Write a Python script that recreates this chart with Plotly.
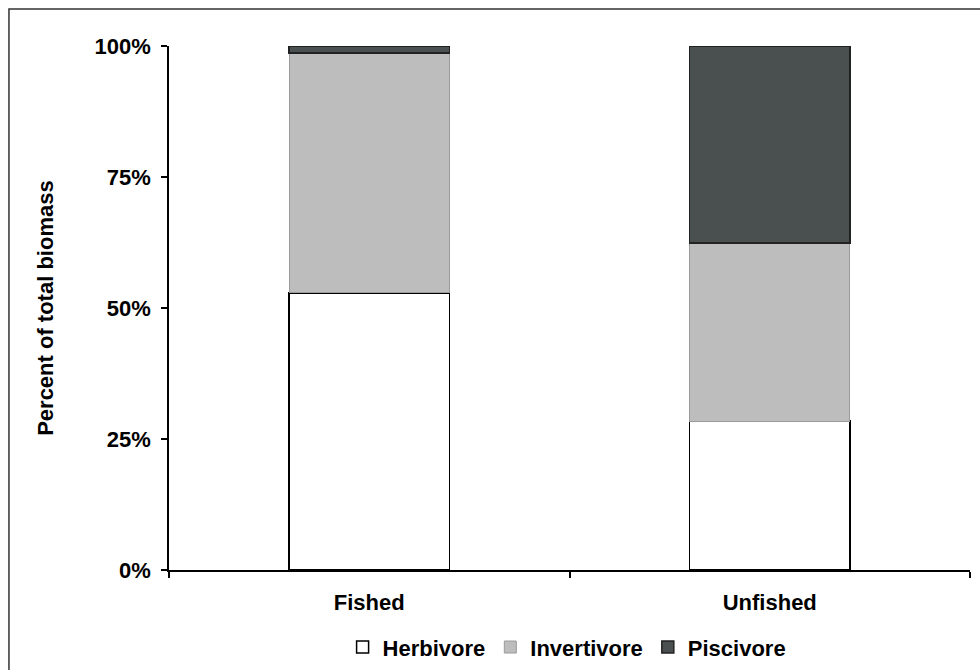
import plotly.graph_objects as go

SITES = ['Fished', 'Unfished']
HERBIVORE = [52.9, 28.4]
INVERTIVORE = [45.8, 34.0]
PISCIVORE = [1.3, 37.6]
Y_TICKS = [0, 25, 50, 75, 100]
Y_TICK_LABELS = ['0%', '25%', '50%', '75%', '100%']

FONT = dict(family='Liberation Sans, Arial, sans-serif', size=22, color='black', weight='bold')

fig = go.Figure()
fig.add_bar(x=SITES, y=HERBIVORE, name='Herbivore',
            marker=dict(color='white', line=dict(color='black', width=1.5)))
fig.add_bar(x=SITES, y=INVERTIVORE, name='Invertivore',
            marker=dict(color='#bdbdbd', line=dict(color='#9a9a9a', width=1)))
fig.add_bar(x=SITES, y=PISCIVORE, name='Piscivore',
            marker=dict(color='#4a4f4f', line=dict(color='#222222', width=1.5)))

fig.update_layout(
    barmode='stack',
    bargap=0.6,
    width=980, height=670, autosize=False,
    margin=dict(l=169, r=10, t=46, b=100),
    paper_bgcolor='white', plot_bgcolor='white',
    font=FONT,
    showlegend=True,
    # container-referenced so the legend does not push the bottom margin
    legend=dict(orientation='h', x=0.497, xanchor='center',
                yref='container', y=0.034, yanchor='middle',
                font=FONT, traceorder='normal'),
    xaxis=dict(showline=True, linecolor='black', linewidth=1.5, ticks='outside',
               tickson='boundaries', ticklen=6, tickcolor='black', tickwidth=1.5,
               showgrid=False, tickfont=FONT, ticklabelstandoff=12, automargin=False),
    yaxis=dict(range=[0, 100], tickvals=Y_TICKS, ticktext=Y_TICK_LABELS,
               showline=True, linecolor='black', linewidth=1.5, ticks='outside',
               ticklen=6, tickcolor='black', tickwidth=1.5, showgrid=False,
               zeroline=False, tickfont=FONT, ticklabelstandoff=6, automargin=False),
    annotations=[dict(text='Percent of total biomass', xref='paper', yref='paper',
                      x=-0.155, y=0.5, xanchor='center', yanchor='middle',
                      textangle=-90, showarrow=False, font=FONT)],
    shapes=[dict(type='rect', xref='paper', yref='paper',
                 x0=-0.1998, x1=1.05, y0=-0.25, y1=1.0706,
                 line=dict(color='#333333', width=1.5))],
)

fig.write_html('out.html', config={'displayModeBar': False},
               post_script="document.body.style.margin='0';")
